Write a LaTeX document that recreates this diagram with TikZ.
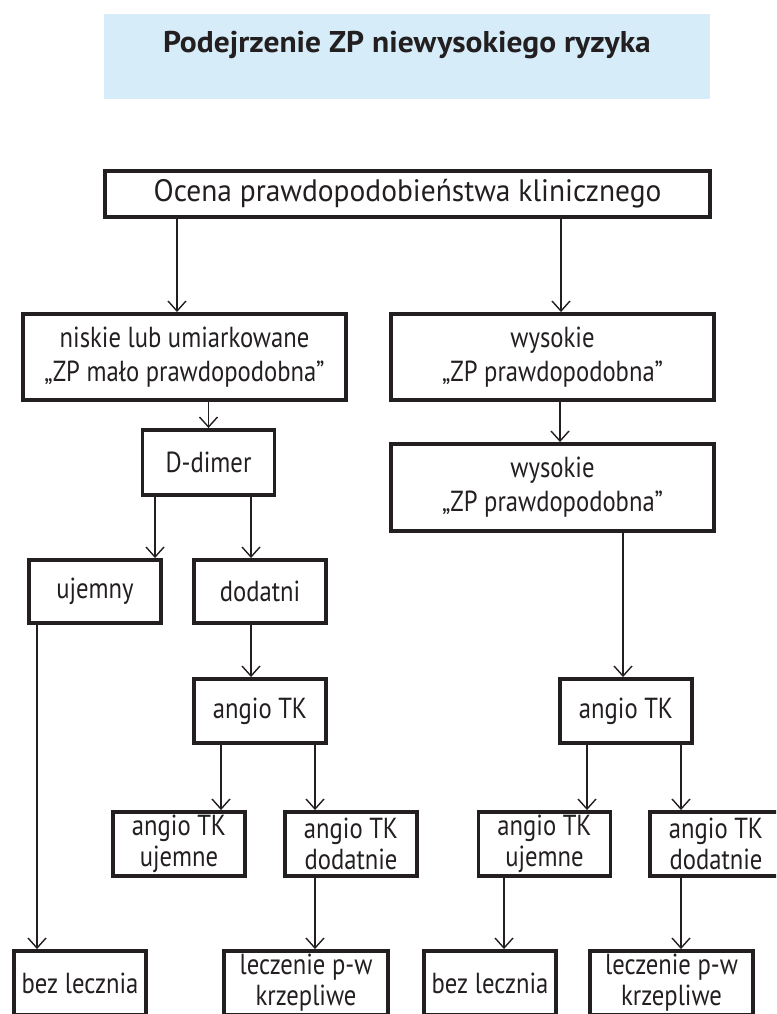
\documentclass[tikz,border=0pt]{standalone}
\usepackage{fontspec}
\setmainfont{PT Sans}
\newfontfamily\boxfont[FakeStretch=0.85]{PT Sans}
\newfontfamily\topfont[FakeStretch=0.95]{PT Sans}
\newfontfamily\titlefont[FakeStretch=1.05]{PT Sans}
\usetikzlibrary{arrows.meta, positioning}
\definecolor{inkgray}{RGB}{35,31,32}
\definecolor{titleblue}{RGB}{214,236,249}

\tikzset{
  box/.style={draw=inkgray, line width=3.9pt, text=inkgray, align=center, inner sep=0pt, font=\boxfont\fontsize{29}{34}\selectfont},
  widebox/.style={box, minimum width=323pt, minimum height=86pt},
  smallbox/.style={box, minimum width=132pt, minimum height=64pt, font=\boxfont\fontsize{29}{31}\selectfont},
  arr/.style={draw=inkgray, line width=1.4pt, -{Straight Barb[length=10pt,width=18pt]}}
}

\begin{document}
\begin{tikzpicture}[x=1pt, y=-1pt]
    \clip (0,0) rectangle (776,1014);

    % Title band
    \node[fill=titleblue, text=inkgray, inner sep=0pt, minimum width=606pt, minimum height=85pt, text height=22pt, text depth=29pt, font=\titlefont\bfseries\fontsize{30}{34}\selectfont] (title) at (407,56.5) {Podejrzenie ZP niewysokiego ryzyka};

    % Boxes
    \node[box, minimum width=605pt, minimum height=46pt, font=\topfont\fontsize{31}{34}\selectfont] (ocena) at (407.5,194) {Ocena prawdopodobieństwa klinicznego};
    \node[widebox] (niskie) at (184.5,357) {niskie lub umiarkowane\\„ZP mało prawdopodobna”};
    \node[widebox] (wys1) at (552.5,357) {wysokie\\„ZP prawdopodobna”};
    \node[smallbox, minimum height=65pt] (ddimer) at (208.5,462.5) {D-dimer};
    \node[widebox, minimum height=87pt] (wys2) at (552.5,487.5) {wysokie\\„ZP prawdopodobna”};
    \node[smallbox, minimum height=63pt] (ujemny) at (95,591.5) {ujemny};
    \node[smallbox, minimum height=63pt] (dodatni) at (260,591.5) {dodatni};
    \node[smallbox] (angioL) at (260,711) {angio TK};
    \node[smallbox] (angioR) at (626,711) {angio TK};
    \node[smallbox] (ujL) at (179,844) {angio TK\\ujemne};
    \node[smallbox] (doL) at (351,844) {angio TK\\dodatnie};
    \node[smallbox] (ujR) at (544.5,844) {angio TK\\ujemne};
    \node[smallbox] (doR) at (716,844) {angio TK\\dodatnie};
    \node[smallbox] (bezL) at (80,983) {bez lecznia};
    \node[smallbox, minimum width=164pt] (lecL) at (306,983) {leczenie p-w\\krzepliwe};
    \node[smallbox] (bezR) at (490,983) {bez lecznia};
    \node[smallbox, minimum width=163.5pt] (lecR) at (671.5,983) {leczenie p-w\\krzepliwe};

    % Arrows
    \draw[arr] ([xshift=-7.5pt]niskie.north |- ocena.south) -- ([xshift=-7.5pt]niskie.north);
    \draw[arr] ([xshift=8.5pt]wys1.north |- ocena.south) -- ([xshift=8.5pt]wys1.north);
    \draw[arr] (ddimer.north |- niskie.south) -- (ddimer.north);
    \draw[arr] ([xshift=7.5pt]wys2.north |- wys1.south) -- ([xshift=7.5pt]wys2.north);
    \draw[arr] ([xshift=60pt]ujemny.north |- ddimer.south) -- ([xshift=60pt]ujemny.north);
    \draw[arr] ([xshift=-9pt]dodatni.north |- ddimer.south) -- ([xshift=-9pt]dodatni.north);
    \draw[arr] ([xshift=-43pt]bezL.north |- ujemny.south) -- ([xshift=-43pt]bezL.north);
    \draw[arr] ([xshift=-9pt]angioL.north |- dodatni.south) -- ([xshift=-9pt]angioL.north);
    \draw[arr] ([xshift=-3pt]angioR.north |- wys2.south) -- ([xshift=-3pt]angioR.north);
    \draw[arr] ([xshift=42pt]ujL.north |- angioL.south) -- ([xshift=42pt]ujL.north);
    \draw[arr] ([xshift=-36pt]doL.north |- angioL.south) -- ([xshift=-36pt]doL.north);
    \draw[arr] ([xshift=42.5pt]ujR.north |- angioR.south) -- ([xshift=42.5pt]ujR.north);
    \draw[arr] ([xshift=-35pt]doR.north |- angioR.south) -- ([xshift=-35pt]doR.north);
    \draw[arr] ([xshift=9pt]lecL.north |- doL.south) -- ([xshift=9pt]lecL.north);
    \draw[arr] ([xshift=14pt]bezR.north |- ujR.south) -- ([xshift=14pt]bezR.north);
    \draw[arr] ([xshift=9.5pt]lecR.north |- doR.south) -- ([xshift=9.5pt]lecR.north);
\end{tikzpicture}
\end{document}
